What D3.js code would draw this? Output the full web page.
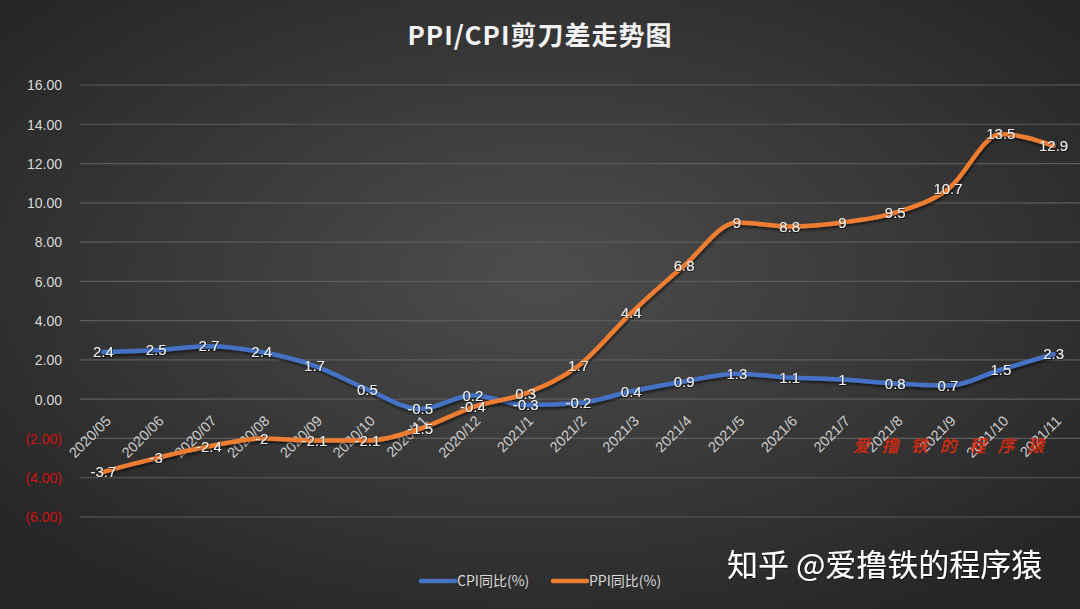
<!DOCTYPE html>
<html><head><meta charset="utf-8">
<script src="https://cdn.jsdelivr.net/npm/d3@7"></script>
<style>html,body{margin:0;padding:0;background:#333;overflow:hidden}</style>
</head><body><svg id="c" width="1080" height="609"></svg>
<script>
const categories = ["2020/05","2020/06","2020/07","2020/08","2020/09","2020/10","2020/11","2020/12","2021/1","2021/2","2021/3","2021/4","2021/5","2021/6","2021/7","2021/8","2021/9","2021/10","2021/11"];
const cpi = [2.4,2.5,2.7,2.4,1.7,0.5,-0.5,0.2,-0.3,-0.2,0.4,0.9,1.3,1.1,1,0.8,0.7,1.5,2.3];
const ppi = [-3.7,-3,-2.4,-2,-2.1,-2.1,-1.5,-0.4,0.3,1.7,4.4,6.8,9,8.8,9,9.5,10.7,13.5,12.9];
const yTicks = [-6,-4,-2,0,2,4,6,8,10,12,14,16];
const seriesNames = ["CPI同比(%)","PPI同比(%)"];
const colors = ["#4472C4","#ED7D31"];

const W=1080,H=609;
const svg=d3.select("#c");
const defs=svg.append("defs");
const rg=defs.append("radialGradient").attr("id","bg").attr("cx","0.5").attr("cy","0.45").attr("r","0.65");
rg.append("stop").attr("offset","0").attr("stop-color","#4d4d4d");
rg.append("stop").attr("offset","1").attr("stop-color","#262626");
svg.append("rect").attr("width",W).attr("height",H).attr("fill","url(#bg)");
const f=defs.append("filter").attr("id","sh").attr("x","-10%").attr("y","-10%").attr("width","120%").attr("height","130%");
f.append("feDropShadow").attr("dx",1).attr("dy",2).attr("stdDeviation",1.5).attr("flood-color","#000").attr("flood-opacity",0.6);
const ft=defs.append("filter").attr("id","tsh");
ft.append("feDropShadow").attr("dx",0.5).attr("dy",0.8).attr("stdDeviation",0.6).attr("flood-color","#000").attr("flood-opacity",0.8);

const font="'Liberation Sans',Arial,'Noto Sans CJK SC',sans-serif";
const cjk="'Noto Sans CJK SC',sans-serif";
const x=d3.scaleBand().domain(categories).range([77,1080]);
const y=d3.scaleLinear().domain([-6,16]).range([517,85]);
const cx=d=>x(d)+x.bandwidth()/2;

// gridlines
svg.append("g").selectAll("line").data(yTicks).join("line")
  .attr("x1",80).attr("x2",1080).attr("y1",d=>y(d)).attr("y2",d=>y(d))
  .attr("stroke","#5c5c5c").attr("stroke-width",1.2);

// y axis labels
const yAxis=d3.axisLeft(y).tickValues(yTicks).tickSize(0).tickPadding(0)
  .tickFormat(d=>d<0?"("+Math.abs(d).toFixed(2)+")":d.toFixed(2));
const ga=svg.append("g").attr("transform","translate(62,0)").call(yAxis);
ga.select(".domain").remove();
ga.selectAll("text").attr("font-family",font).attr("font-size",14)
  .attr("fill",d=>d<0?"#d01010":"#d9d9d9").attr("dy","0.35em");

// x labels
const xAxis=d3.axisBottom(x).tickSize(0).tickPadding(0);
const gx=svg.append("g").attr("transform","translate(0,"+y(0)+")").call(xAxis);
gx.select(".domain").remove();
gx.selectAll("text").attr("font-family",font).attr("font-size",14.5).attr("fill","#cccccc")
  .attr("text-anchor","end").attr("y",0).attr("dy","0.35em").attr("transform","translate(5,19) rotate(-45)");

// lines
const line=d3.line().x((d,i)=>cx(categories[i])).y(d=>y(d)).curve(d3.curveMonotoneX);
[cpi,ppi].forEach((s,k)=>{
  svg.append("path").datum(s).attr("d",line).attr("fill","none").attr("stroke",colors[k])
    .attr("stroke-width",4.5).attr("stroke-linejoin","round").attr("stroke-linecap","round").attr("filter","url(#sh)");
});
// labels
[cpi,ppi].forEach((s,k)=>{
  svg.append("g").selectAll("text").data(s).join("text")
    .attr("x",(d,i)=>cx(categories[i])).attr("y",d=>y(d)).attr("dy","0.35em")
    .attr("text-anchor","middle").attr("font-family",font).attr("font-size",15)
    .attr("fill","#f0f0f0").attr("filter","url(#tsh)").text(d=>d);
});

// title
svg.append("text").attr("x",540).attr("y",45).attr("text-anchor","middle")
  .attr("font-family",cjk).attr("font-weight","bold").attr("font-size",26).attr("fill","#f2f2f2")
  .attr("letter-spacing",1).text("PPI/CPI剪刀差走势图");

// legend
const lg=svg.append("g");
const litems=[{x:421,n:seriesNames[0],c:colors[0]},{x:553,n:seriesNames[1],c:colors[1]}];
litems.forEach(it=>{
  lg.append("line").attr("x1",it.x).attr("x2",it.x+34).attr("y1",581).attr("y2",581)
    .attr("stroke",it.c).attr("stroke-width",4.5).attr("stroke-linecap","round");
  lg.append("text").attr("x",it.x+36).attr("y",581).attr("dy","0.35em").attr("font-family",cjk)
    .attr("font-size",14).attr("fill","#d9d9d9").text(it.n);
});

// red handwritten watermark
svg.append("text").attr("x",853).attr("y",452).attr("font-family",cjk)
  .attr("font-size",17).attr("font-weight","bold").attr("font-style","italic").attr("fill","#e02a10").attr("opacity",0.85)
  .attr("letter-spacing",12).text("爱撸铁的程序猿");

// zhihu watermark
svg.append("text").attr("x",727).attr("y",576).attr("font-family",cjk)
  .attr("font-size",31).attr("fill","#ffffff").attr("filter","url(#tsh)").text("知乎 @爱撸铁的程序猿");
</script></body></html>
